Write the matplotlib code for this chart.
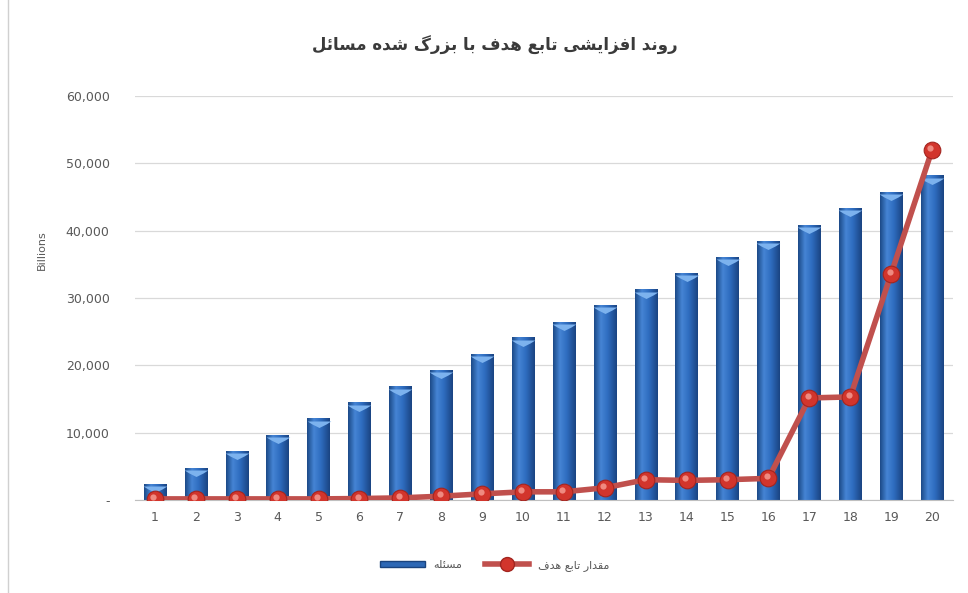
import numpy as np
import matplotlib
matplotlib.use('Agg')
import matplotlib.pyplot as plt
from matplotlib.colors import LinearSegmentedColormap
from matplotlib.lines import Line2D
from matplotlib.patches import Rectangle

# chart data (values in billions)
categories = [str(i) for i in range(1, 21)]
problem_size = [2400, 4800, 7250, 9700, 12100, 14500, 16900, 19300, 21750, 24150,
                26500, 28950, 31300, 33700, 36100, 38500, 40900, 43400, 45800, 48200]
objective = [150, 150, 150, 150, 150, 200, 300, 550, 900, 1200,
             1200, 1800, 3000, 2900, 3000, 3200, 15150, 15300, 33600, 52000]
y_ticks = [0, 10000, 20000, 30000, 40000, 50000, 60000]
y_tick_labels = ['-', '10,000', '20,000', '30,000', '40,000', '50,000', '60,000']

title_fa = 'روند افزایشی تابع هدف با بزرگ شده مسائل'
bar_label_fa = 'مسئله'
line_label_fa = 'مقدار تابع هدف'

# --- tiny Persian shaper: presentation forms + RTL order ---
# (isolated, final, initial, medial); right-joining letters have only 2 forms
FORMS = {
    'ا': (0xFE8D, 0xFE8E), 'د': (0xFEA9, 0xFEAA), 'ذ': (0xFEAB, 0xFEAC),
    'ر': (0xFEAD, 0xFEAE), 'ز': (0xFEAF, 0xFEB0), 'و': (0xFEED, 0xFEEE),
    'ژ': (0xFB8A, 0xFB8B),
    'ب': (0xFE8F, 0xFE90, 0xFE91, 0xFE92), 'ت': (0xFE95, 0xFE96, 0xFE97, 0xFE98),
    'ج': (0xFE9D, 0xFE9E, 0xFE9F, 0xFEA0), 'ح': (0xFEA1, 0xFEA2, 0xFEA3, 0xFEA4),
    'س': (0xFEB1, 0xFEB2, 0xFEB3, 0xFEB4), 'ش': (0xFEB5, 0xFEB6, 0xFEB7, 0xFEB8),
    'ع': (0xFEC9, 0xFECA, 0xFECB, 0xFECC), 'ف': (0xFED1, 0xFED2, 0xFED3, 0xFED4),
    'ق': (0xFED5, 0xFED6, 0xFED7, 0xFED8), 'ل': (0xFEDD, 0xFEDE, 0xFEDF, 0xFEE0),
    'م': (0xFEE1, 0xFEE2, 0xFEE3, 0xFEE4), 'ن': (0xFEE5, 0xFEE6, 0xFEE7, 0xFEE8),
    'ه': (0xFEE9, 0xFEEA, 0xFEEB, 0xFEEC), 'ی': (0xFBFC, 0xFBFD, 0xFBFE, 0xFBFF),
    'گ': (0xFB92, 0xFB93, 0xFB94, 0xFB95), 'ک': (0xFB8E, 0xFB8F, 0xFB90, 0xFB91),
    'ئ': (0xFE89, 0xFE8A, 0xFE8B, 0xFE8C), 'پ': (0xFB56, 0xFB57, 0xFB58, 0xFB59),
}


def shape_fa(text):
    out = []
    n = len(text)
    for i, ch in enumerate(text):
        if ch not in FORMS:
            out.append(ch)
            continue
        prev = text[i - 1] if i > 0 else ''
        nxt = text[i + 1] if i < n - 1 else ''
        join_prev = prev in FORMS and len(FORMS[prev]) == 4
        join_next = len(FORMS[ch]) == 4 and nxt in FORMS
        f = FORMS[ch]
        if join_prev and join_next:
            out.append(chr(f[3]))
        elif join_prev:
            out.append(chr(f[1]))
        elif join_next:
            out.append(chr(f[2]))
        else:
            out.append(chr(f[0]))
    return ''.join(out)[::-1]


plt.rcParams['font.family'] = ['DejaVu Sans', 'Noto Sans']

fig = plt.figure(figsize=(9.68, 5.93), dpi=100)
ax = fig.add_axes([0.139, 0.157, 0.845, 0.681])

x = np.arange(len(categories))
bars = ax.bar(x, problem_size, width=0.55, color='#2d68b5', zorder=2)

# horizontal gradient to fake the cylinder look
grad_cmap = LinearSegmentedColormap.from_list(
    'cyl', [(0.0, '#1c4a88'), (0.3, '#4584d4'), (0.6, '#2f6dc0'), (1.0, '#1a4482')])
grad = np.linspace(0, 1, 64).reshape(1, -1)
for p in bars:
    im = ax.imshow(grad, cmap=grad_cmap, aspect='auto', zorder=2.1,
                   extent=[p.get_x(), p.get_x() + p.get_width(), 0, p.get_height()])
    im.set_clip_path(p)

# light wedge-shaped cap at the top of each bar
cap_marker = [(-1, 0), (1, 0), (0.6, -0.25), (0, -0.55), (-0.6, -0.25), (-1, 0)]
ax.plot(x, np.array(problem_size) - 350, linestyle='none', marker=cap_marker,
        markersize=17, markerfacecolor='#7cb2ee', markeredgewidth=0, zorder=2.2)

ax.plot(x, objective, color='#c0504d', linewidth=4, zorder=3,
        marker='o', markersize=12, markerfacecolor='#d2352c',
        markeredgecolor='#a3251f', markeredgewidth=0.8)
# small highlight on markers
ax.plot(x - 0.04, np.array(objective) + 300, linestyle='none', marker='o',
        markersize=4.5, markerfacecolor='#ef8a80', markeredgewidth=0, zorder=3.1)

ax.set_xlim(-0.5, len(categories) - 0.5)
ax.set_ylim(0, 60000)
ax.set_xticks(x)
ax.set_xticklabels(categories)
ax.set_yticks(y_ticks)
ax.set_yticklabels(y_tick_labels)
ax.tick_params(axis='both', length=0, labelsize=9, colors='#595959', pad=8)
ax.tick_params(axis='y', pad=18)
ax.yaxis.grid(True, color='#d9d9d9', linewidth=0.9, zorder=0)
ax.set_axisbelow(True)
for s in ['top', 'right', 'left']:
    ax.spines[s].set_visible(False)
ax.spines['bottom'].set_color('#bfbfbf')

fig.text(0.511, 0.924, shape_fa(title_fa), ha='center', va='center',
         fontsize=12, fontweight='bold', color='#3a3a3a')
fig.text(0.043, 0.578, 'Billions', rotation=90, ha='center', va='center',
         fontsize=8, color='#595959')

handles = [Rectangle((0, 0), 1, 1, facecolor='#2d68b5', edgecolor='#1a447e'),
           Line2D([], [], color='#c0504d', linewidth=4, marker='o', markersize=10,
                  markerfacecolor='#d2352c', markeredgecolor='#a3251f')]
fig.legend(handles, [shape_fa(bar_label_fa), shape_fa(line_label_fa)],
           loc='center', bbox_to_anchor=(0.511, 0.047), ncol=2, frameon=False,
           fontsize=8, handlelength=4, handleheight=0.5, columnspacing=2,
           labelcolor='#595959')

# left border of the chart area
fig.add_artist(Line2D([0.008, 0.008], [0, 1], transform=fig.transFigure,
                      color='#d0d0d0', linewidth=1))

fig.savefig('out.png', dpi=100)
